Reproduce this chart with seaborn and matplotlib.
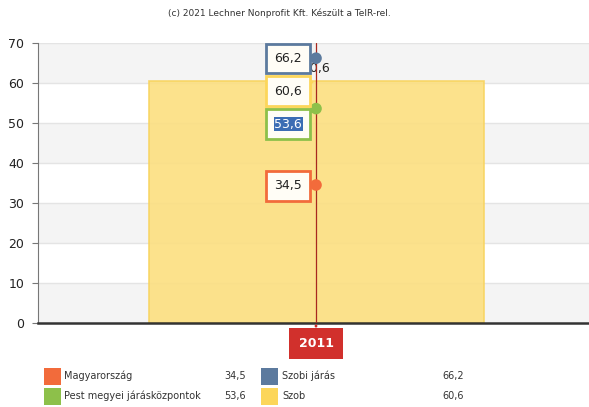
import matplotlib
matplotlib.use('Agg')
import matplotlib.pyplot as plt
from matplotlib.patches import Rectangle
import seaborn as sns
import pandas as pd

# data
years = ['2011']
series = ['Magyarország', 'Pest megyei járásközpontok', 'Szobi járás', 'Szob']
values = [34.5, 53.6, 66.2, 60.6]
colors = ['#F26B3B', '#8DC04A', '#5C7A9E', '#FCD65A']

W, H = 589, 407
sns.set_style('white')
plt.rcParams['font.family'] = ['DejaVu Sans']

fig = plt.figure(figsize=(W / 100, H / 100), dpi=100)
ax = fig.add_axes([38 / W, 1 - 323 / H, (W - 38) / W, (323 - 43) / H])

# alternating background bands + grid
for lo in range(0, 70, 20):
    ax.axhspan(lo, lo + 10, color='#F4F4F4', zorder=0, lw=0)
for y in range(10, 71, 10):
    ax.axhline(y, color='#E4E4E4', lw=1, zorder=0.5)

# Szob is drawn as the bar
df_bar = pd.DataFrame({'year': years, 'value': [values[3]]})
sns.barplot(data=df_bar, x='year', y='value', color='#FCDF80', saturation=1,
            width=335 / 551, alpha=0.9, edgecolor='#F8D45E', linewidth=1.2,
            ax=ax, zorder=1)
ax.bar_label(ax.containers[0], labels=['60,6'], padding=4, fontsize=9,
             color='#222222', zorder=2)

ax.axvline(0, color='#A8281F', lw=0.9, zorder=3)

# point series
for name, val, col in zip(series[:3], values[:3], colors[:3]):
    ax.scatter([0], [val], s=70, color=col, zorder=4, edgecolor='none')

# tooltip boxes (value, colour, vertical offset in px)
tips = [(66.2, colors[2], 0), (60.6, colors[3], -10.5),
        (53.6, colors[1], -15.5), (34.5, colors[0], -1)]
for val, col, dy in tips:
    ax.annotate(f'{val:.1f}'.replace('.', ','), xy=(0, val),
                xytext=(-28, dy), textcoords='offset pixels',
                ha='center', va='center', fontsize=9, color='#222222',
                bbox=dict(boxstyle='square,pad=0.65', fc='#FFFDF6', ec=col, lw=2),
                arrowprops=dict(arrowstyle='-', color=col, lw=2,
                                shrinkA=0, shrinkB=3),
                zorder=5)
# browser text selection on 53,6
ax.annotate('53,6', xy=(0, 53.6), xytext=(-28, -15.5), textcoords='offset pixels',
            ha='center', va='center', fontsize=9, color='white',
            bbox=dict(boxstyle='square,pad=0.05', fc='#3C6DB4', ec='none'),
            zorder=6)

ax.set_ylim(0, 70)
ax.set_xlim(-(316 - 38) / 551, (589 - 316) / 551)
ax.set_yticks(range(0, 71, 10))
ax.tick_params(axis='y', length=4, color='#777777', labelsize=9,
               labelcolor='#222222', left=True, pad=6)
ax.set_xticks([0], years)
ax.tick_params(axis='x', length=0, pad=10, labelsize=9, labelcolor='white')
for lab in ax.get_xticklabels():
    lab.set_fontweight('bold')
    lab.set_bbox(dict(boxstyle='square,pad=0.75', fc='#D1302C', ec='none'))
# little notch above the year label
ax.annotate('', xy=(0, 0), xytext=(0, -6), textcoords='offset pixels',
            arrowprops=dict(arrowstyle='-', color='#D1302C', lw=2),
            annotation_clip=False)
ax.set_xlabel('')
ax.set_ylabel('')
sns.despine(ax=ax, top=True, right=True)
ax.spines['left'].set_color('#777777')
ax.spines['bottom'].set_color('#333333')
ax.spines['bottom'].set_linewidth(1.8)

fig.text(279 / W, 1 - 13 / H, '(c) 2021 Lechner Nonprofit Kft. Készült a TeIR-rel.',
         ha='center', va='center', fontsize=6.5, color='#333333')

# legend
rows = [(0, 0, 376), (1, 0, 396), (2, 1, 376), (3, 1, 396)]
col_x = [(44, 64, 246), (261, 282, 464)]
for i, c, y in rows:
    sx, tx, vx = col_x[c]
    fig.add_artist(Rectangle((sx / W, 1 - (y + 8.5) / H), 17 / W, 17 / H,
                             transform=fig.transFigure, color=colors[i], lw=0))
    fig.text(tx / W, 1 - y / H, series[i], ha='left', va='center',
             fontsize=7, color='#333333')
    fig.text(vx / W, 1 - y / H, f'{values[i]:.1f}'.replace('.', ','),
             ha='right', va='center', fontsize=7, color='#333333')

fig.savefig('out.png', dpi=100)
